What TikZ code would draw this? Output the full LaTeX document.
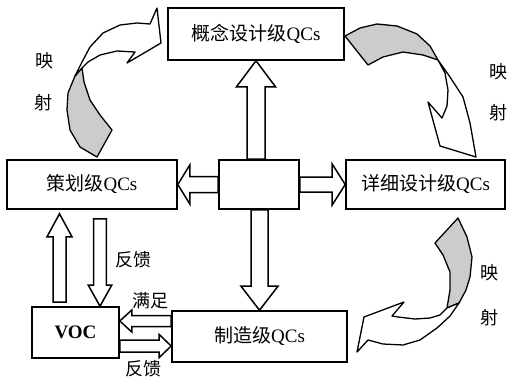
\documentclass[tikz,border=0pt]{standalone}
\usepackage{fontspec}
\setmainfont{Liberation Serif}
\newfontfamily\cjk{Noto Sans CJK SC}
\usetikzlibrary{calc}
\tikzset{
  box/.style={draw, line width=1.6pt, fill=white, inner sep=0pt, font=\fontsize{19}{19}\selectfont},
  barrow/.style={draw, line width=1.5pt, fill=white, line join=miter},
  carrow/.style={draw, line width=1.3pt, line join=round},
  grayface/.style={carrow, fill=gray!40},
  whiteface/.style={carrow, fill=white},
  lbl/.style={font=\fontsize{18}{18}\selectfont\cjk, inner sep=0pt},
}
\newcommand\vblock[5]{\draw[barrow] ($(#1)+(-#4,0)$) -- ($(#2)+(-#4,#3)$) -- ($(#2)+(-#5,#3)$) -- (#2) -- ($(#2)+(#5,#3)$) -- ($(#2)+(#4,#3)$) -- ($(#1)+(#4,0)$) -- cycle;}
\newcommand\hblock[5]{\draw[barrow] ($(#1)+(0,-#4)$) -- ($(#2)+(#3,-#4)$) -- ($(#2)+(#3,-#5)$) -- (#2) -- ($(#2)+(#3,#5)$) -- ($(#2)+(#3,#4)$) -- ($(#1)+(0,#4)$) -- cycle;}
\begin{document}
\begin{tikzpicture}[x=1pt,y=-1pt]
\useasboundingbox (0,0) rectangle (510,380);
% boxes
\node[box, minimum width=176pt, minimum height=52pt] (top) at (256,34) {{\cjk 概念设计级}QCs};
\node[box, minimum width=170pt, minimum height=49pt] (plan) at (92,184.5) {{\cjk 策划级}QCs};
\node[box, minimum width=80pt, minimum height=49pt] (c) at (259,184.5) {};
\node[box, minimum width=159pt, minimum height=49pt] (detail) at (425.5,184.5) {{\cjk 详细设计级}QCs};
\node[box, minimum width=87pt, minimum height=51pt] (voc) at (75.5,332.5) {\bfseries VOC};
\node[box, minimum width=175pt, minimum height=51pt] (mfg) at (259.5,336.5) {{\cjk 制造级}QCs};
% block arrows
\coordinate (a1b) at (top.south |- c.north);
\vblock{a1b}{top.south}{26}{9}{19.5}
\coordinate (a2b) at (mfg.north |- c.south);
\vblock{a2b}{mfg.north}{-24}{8.5}{18.5}
\hblock{c.west}{plan.east}{12}{8}{19.5}
\hblock{c.east}{detail.west}{-13}{7.5}{20.5}
\coordinate (a5b) at ($(voc.north)+(-16,-4)$);
\coordinate (a5t) at ($(plan.south)+(-32.5,4)$);
\vblock{a5b}{a5t}{23}{6.5}{12.5}
\coordinate (a6b) at ($(plan.south)+(8,9)$);
\coordinate (a6t) at ($(voc.north)+(24.5,0)$);
\vblock{a6b}{a6t}{-21}{6.3}{11.7}
\coordinate (a7b) at ($(mfg.west)+(0,-15.5)$);
\coordinate (a7t) at ($(voc.east)+(0,-11.5)$);
\hblock{a7b}{a7t}{12}{5.5}{11}
\coordinate (a8b) at ($(voc.east)+(0,13.5)$);
\coordinate (a8t) at ($(mfg.west)+(0,9.5)$);
\hblock{a8b}{a8t}{-12}{6}{11.5}
% labels
\node[lbl] (fk1) at (133,260) {反馈};
\node[lbl] (mz) at (150,301) {满足};
\node[lbl] (fk2) at (143,369) {反馈};
\node[lbl] (ys1a) at (44,61) {映};
\node[lbl] (ys1b) at (43,103) {射};
\node[lbl] (ys2a) at (498,72) {映};
\node[lbl] (ys2b) at (498,113) {射};
\node[lbl] (ys3a) at (489,273) {映};
\node[lbl] (ys3b) at (489,318) {射};
% curved arrow: planning -> concept
\draw[grayface] (97,157) -- (112,130) -- (100,115) -- (90,100) -- (84,82) -- (82,68) -- (75,76) -- (68,93) -- (67,110) -- (70,130) -- (80,147) -- cycle;
\draw[whiteface] (75,76) -- (82,62) -- (90,47) -- (103,33) -- (120,25) -- (137,23) -- (150,24) -- (157,8) -- (161,43) -- (127,63) -- (135,52) -- (117,51) -- (100,55) -- (88,62) -- (82,68) -- cycle;
% curved arrow: concept -> detail
\draw[grayface] (345,36) -- (360,28) -- (377,24) -- (397,26) -- (417,34) -- (430,46) -- (438,60) -- (423,55) -- (403,52) -- (383,57) -- (368,65) -- cycle;
\draw[whiteface] (438,60) -- (450,77) -- (463,97) -- (470,123) -- (476,157) -- (440,146) -- (428,102) -- (442,118) -- (447,106) -- (448,90) -- (445,73) -- cycle;
% curved arrow: detail -> manufacturing
\draw[grayface] (458,218) -- (467,237) -- (472,257) -- (470,277) -- (466,290) -- (459,303) -- (447,308) -- (450,290) -- (450,272) -- (443,255) -- (435,243) -- cycle;
\draw[whiteface] (447,308) -- (440,315) -- (430,318) -- (415,319) -- (398,317) -- (392,316) -- (404,302) -- (364,317) -- (357,352) -- (368,340) -- (383,344) -- (403,345) -- (420,340) -- (437,328) -- (450,316) -- (459,303) -- cycle;
\end{tikzpicture}
\end{document}
